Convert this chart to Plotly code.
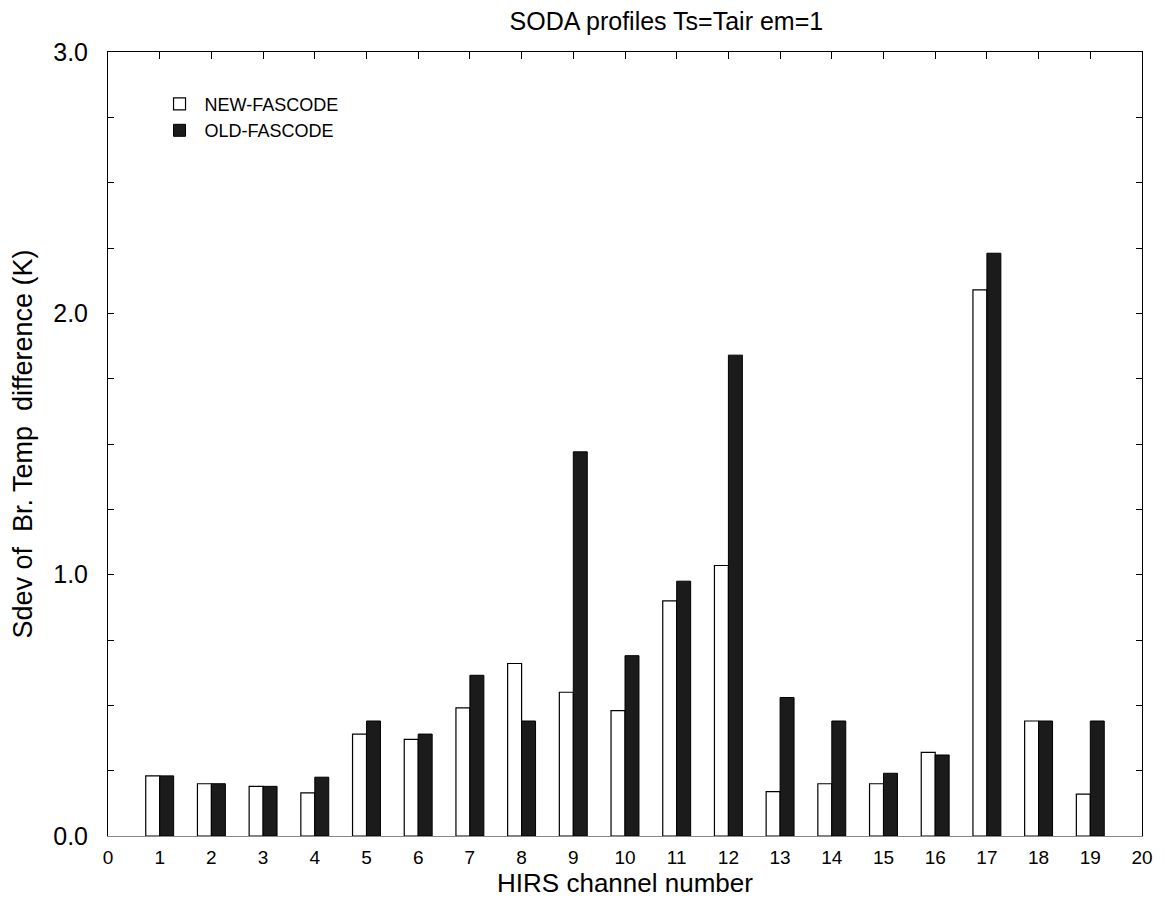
import plotly.graph_objects as go

channels = list(range(1, 20))
new_fascode = [0.23, 0.20, 0.19, 0.165, 0.39, 0.37, 0.49, 0.66, 0.55, 0.48,
               0.90, 1.035, 0.17, 0.20, 0.20, 0.32, 2.09, 0.44, 0.16]
old_fascode = [0.23, 0.20, 0.19, 0.225, 0.44, 0.39, 0.615, 0.44, 1.47, 0.69,
               0.975, 1.84, 0.53, 0.44, 0.24, 0.31, 2.23, 0.44, 0.44]
x_ticks = list(range(0, 21))
y_ticks = [i * 0.25 for i in range(13)]
y_ticktext = [f"{v:.1f}" if v == int(v) else "" for v in y_ticks]

FONT = "Liberation Sans, Arial, Helvetica, sans-serif"

fig = go.Figure()
fig.add_trace(go.Bar(x=channels, y=new_fascode, name="NEW-FASCODE",
                     marker=dict(color="white", line=dict(color="black", width=1.2))))
fig.add_trace(go.Bar(x=channels, y=old_fascode, name="OLD-FASCODE",
                     marker=dict(color="#1b1b1b", line=dict(color="black", width=1))))
# invisible helper trace so the top axis is drawn
fig.add_trace(go.Scatter(x=[x_ticks[0], x_ticks[-1]], y=[0, 0], xaxis="x2", mode="markers",
                         marker=dict(opacity=0), showlegend=False, hoverinfo="skip"))

fig.update_layout(
    width=1157, height=894,
    paper_bgcolor="white", plot_bgcolor="white",
    margin=dict(l=98, r=21, t=44, b=63),
    barmode="group", bargap=0.46, bargroupgap=0,
    font=dict(family=FONT, color="black"),
    title=dict(text="SODA profiles Ts=Tair em=1", x=0.54, xref="paper", xanchor="center",
               y=1, yref="container", yanchor="top", pad=dict(t=4),
               font=dict(size=25, family=FONT, color="black")),
    xaxis=dict(range=[0, 20], tickvals=x_ticks, ticktext=[str(v) for v in x_ticks],
               ticks="", showgrid=False, zeroline=False, showline=True,
               linecolor="#888888", linewidth=1, ticklabelstandoff=4,
               tickfont=dict(size=19, family=FONT),
               title=dict(text="HIRS channel number", font=dict(size=26, family=FONT), standoff=4)),
    xaxis2=dict(range=[0, 20], overlaying="x", side="top", tickvals=x_ticks,
                ticks="inside", ticklen=7, tickcolor="black", showticklabels=False,
                showgrid=False, zeroline=False, showline=True, linecolor="black", linewidth=1),
    yaxis=dict(range=[0, 3], tickvals=y_ticks, ticktext=y_ticktext,
               ticks="inside", ticklen=6, tickcolor="black", mirror="ticks",
               showgrid=False, zeroline=False, showline=True, linecolor="black", linewidth=1,
               tickfont=dict(size=25, family=FONT), ticklabelstandoff=14,
               title=dict(text="Sdev of  Br. Temp  difference (K)", font=dict(size=27, family=FONT),
                          standoff=14)),
    legend=dict(x=0.045, y=0.957, xanchor="left", yanchor="top", bgcolor="rgba(0,0,0,0)",
                font=dict(size=18, family=FONT), tracegroupgap=0, itemwidth=40),
    showlegend=True,
)

fig.write_html("out.html")
